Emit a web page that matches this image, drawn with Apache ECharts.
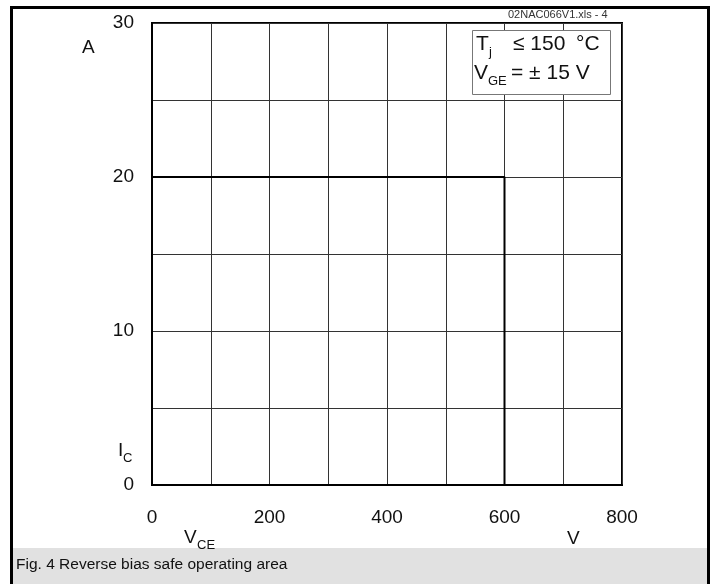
<!DOCTYPE html>
<html>
<head>
<meta charset="utf-8">
<script src="https://cdn.jsdelivr.net/npm/echarts@6/dist/echarts.min.js"></script>
<style>
  html, body { margin: 0; padding: 0; background: #fff; }
  #chart { width: 715px; height: 584px; }
</style>
</head>
<body>
<div id="chart"></div>
<script>
// RBSOA boundary: collector-emitter voltage (V) vs collector current (A)
const vceValues = [0, 600, 600];
const icValues = [20, 20, 0];
const xTickLabels = [0, 200, 400, 600, 800];
const yTickLabels = [0, 10, 20, 30];

const FONT = '"Liberation Sans", Arial, Helvetica, sans-serif';
const chart = echarts.init(document.getElementById('chart'), null, { renderer: 'canvas' });

const boundary = vceValues.map((v, i) => [v, icValues[i]]);

function txt(x, y, text, size, extra, z) {
  return {
    type: 'text', x: x, y: y, silent: true, z: z || 12,
    style: Object.assign({ text: text, fill: '#111', font: size + 'px ' + FONT }, extra || {})
  };
}

chart.setOption({
  animation: false,
  backgroundColor: '#fff',
  grid: {
    left: 152, top: 23, width: 470, height: 462,
    show: true, borderColor: '#000', borderWidth: 2, backgroundColor: 'transparent'
  },
  xAxis: {
    type: 'value', min: 0, max: 800, interval: 100,
    axisLine: { show: true, lineStyle: { color: '#000', width: 2 } },
    axisTick: { show: false },
    splitLine: { show: true, lineStyle: { color: '#333', width: 1 } },
    axisLabel: {
      margin: 23, color: '#111', fontSize: 19, fontFamily: FONT,
      formatter: v => xTickLabels.includes(v) ? String(v) : ''
    }
  },
  yAxis: {
    type: 'value', min: 0, max: 30, interval: 5,
    axisLine: { show: true, lineStyle: { color: '#000', width: 2 } },
    axisTick: { show: false },
    splitLine: { show: true, lineStyle: { color: '#333', width: 1 } },
    axisLabel: {
      margin: 18, color: '#111', fontSize: 19, fontFamily: FONT,
      formatter: v => yTickLabels.includes(v) ? String(v) : ''
    }
  },
  series: [{
    type: 'line',
    data: boundary,
    showSymbol: false,
    symbol: 'none',
    lineStyle: { color: '#000', width: 2 },
    z: 5
  }],
  graphic: [
    // outer frame
    { type: 'rect', shape: { x: 11.5, y: 7.5, width: 697, height: 600 }, style: { fill: 'none', stroke: '#000', lineWidth: 3 }, silent: true, z: 1 },
    // caption band
    { type: 'rect', shape: { x: 13, y: 548, width: 694, height: 40 }, style: { fill: '#e1e1e1' }, silent: true, z: 0 },
    txt(16, 557, 'Fig. 4 Reverse bias safe operating area', 15.5),
    // file tag
    txt(508, 9, '02NAC066V1.xls - 4', 11, { fill: '#333' }),
    // condition box
    { type: 'rect', shape: { x: 472.5, y: 30.5, width: 138, height: 64 }, style: { fill: '#fff', stroke: '#777', lineWidth: 1 }, silent: true, z: 10 },
    txt(476, 34, 'T', 21),
    txt(489, 46, 'j', 13),
    txt(513, 34, '≤ 150', 21),
    txt(576, 34, '°C', 21),
    txt(474, 63, 'V', 21),
    txt(488, 75, 'GE', 13),
    txt(511, 63, '= ± 15 V', 21),
    // axis unit and quantity labels
    txt(82, 38, 'A', 19),
    txt(118, 441, 'I', 19),
    txt(123, 452, 'C', 13),
    txt(184, 528, 'V', 19),
    txt(197, 539, 'CE', 13),
    txt(567, 529, 'V', 19)
  ]
});
</script>
</body>
</html>
